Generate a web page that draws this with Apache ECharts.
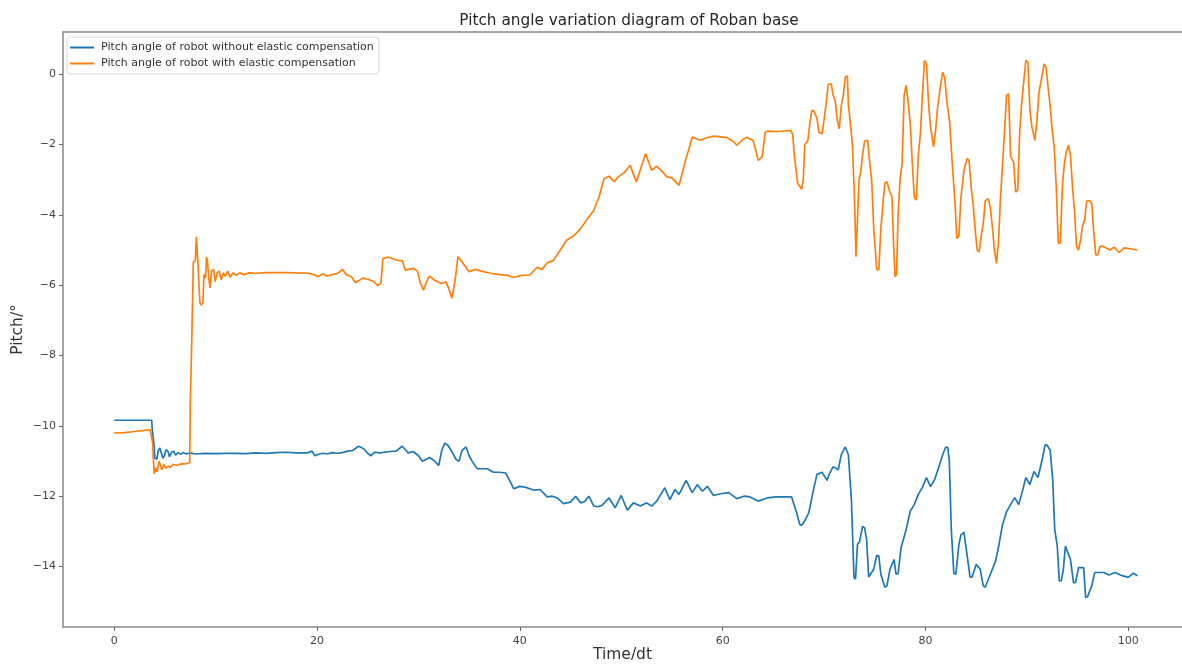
<!DOCTYPE html>
<html>
<head>
<meta charset="utf-8">
<script src="https://cdn.jsdelivr.net/npm/echarts@6/dist/echarts.min.js"></script>
<style>
html,body{margin:0;padding:0;background:#fff;}
#chart{width:1182px;height:666px;}
</style>
</head>
<body>
<div id="chart"></div>
<script>
const titleText = "Pitch angle variation diagram of Roban base";
const xName = "Time/dt";
const yName = "Pitch/°";
const seriesNames = ["Pitch angle of robot without elastic compensation", "Pitch angle of robot with elastic compensation"];
const xTicks = [0, 20, 40, 60, 80, 100];
const yTicks = [-14, -12, -10, -8, -6, -4, -2, 0];

const blueData = [[0,-9.84],[1.5,-9.84],[3.7,-9.84],[3.75,-10.1],[3.9,-10.15],[3.95,-10.6],[4.0,-10.91],[4.2,-10.95],[4.35,-10.7],[4.5,-10.63],[4.65,-10.65],[4.8,-10.92],[4.95,-10.85],[5.1,-10.68],[5.3,-10.72],[5.45,-10.88],[5.65,-10.75],[5.85,-10.72],[6.05,-10.83],[6.3,-10.76],[6.55,-10.81],[6.8,-10.76],[7.1,-10.8],[7.5,-10.77],[8,-10.8],[9,-10.78],[10,-10.79],[11,-10.78],[12,-10.78],[13,-10.79],[14,-10.77],[15,-10.78],[16,-10.76],[17,-10.75],[18,-10.77],[19,-10.77],[19.5,-10.72],[19.8,-10.85],[20.2,-10.8],[20.6,-10.78],[21,-10.8],[21.5,-10.76],[22,-10.78],[22.5,-10.76],[23.0,-10.72],[23.5,-10.7],[24.1,-10.58],[24.6,-10.65],[25.0,-10.78],[25.3,-10.85],[25.7,-10.75],[26.2,-10.77],[27.2,-10.73],[27.8,-10.72],[28.4,-10.58],[29.0,-10.77],[29.5,-10.73],[30.0,-10.85],[30.4,-11.01],[31.1,-10.9],[31.6,-11.0],[32.0,-11.13],[32.3,-10.7],[32.6,-10.49],[32.9,-10.55],[33.3,-10.73],[33.7,-10.95],[34.0,-11.01],[34.3,-10.7],[34.7,-10.6],[35.0,-10.85],[35.3,-11.01],[35.8,-11.22],[36.8,-11.22],[37.4,-11.32],[38.0,-11.32],[38.6,-11.34],[39.0,-11.55],[39.4,-11.79],[40.0,-11.72],[40.6,-11.75],[41.4,-11.83],[42.0,-11.81],[42.7,-12.02],[43.2,-12.0],[43.7,-12.05],[44.3,-12.21],[45.0,-12.17],[45.5,-12.0],[46.0,-12.19],[46.4,-12.15],[46.8,-12.0],[47.3,-12.28],[47.7,-12.3],[48.1,-12.26],[48.8,-12.05],[49.4,-12.33],[50.0,-11.98],[50.6,-12.4],[51.2,-12.19],[51.9,-12.28],[52.5,-12.19],[53.0,-12.28],[53.5,-12.14],[54.3,-11.76],[54.8,-12.1],[55.3,-11.81],[55.7,-11.95],[56.4,-11.55],[57.0,-11.9],[57.5,-11.67],[58.0,-11.86],[58.5,-11.72],[59.1,-11.98],[59.8,-11.93],[60.6,-11.9],[61.4,-12.07],[62.1,-12.0],[62.7,-12.02],[63.5,-12.14],[64.4,-12.05],[65.3,-12.02],[66.8,-12.02],[67.0,-12.2],[67.3,-12.47],[67.6,-12.8],[67.8,-12.83],[68.1,-12.7],[68.5,-12.47],[68.9,-11.9],[69.3,-11.38],[69.8,-11.32],[70.3,-11.55],[70.5,-11.38],[70.9,-11.16],[71.4,-11.25],[71.7,-10.82],[72.1,-10.6],[72.4,-10.82],[72.7,-12.1],[72.95,-14.3],[73.1,-14.36],[73.3,-13.37],[73.5,-13.3],[73.8,-12.86],[74.0,-12.9],[74.2,-13.23],[74.4,-14.3],[74.5,-14.3],[74.9,-14.08],[75.2,-13.68],[75.4,-13.7],[75.6,-14.22],[76.0,-14.59],[76.2,-14.55],[76.5,-14.08],[76.9,-13.8],[77.1,-14.22],[77.3,-14.2],[77.6,-13.46],[78.1,-12.95],[78.5,-12.43],[78.9,-12.24],[79.3,-11.95],[79.7,-11.75],[80.1,-11.47],[80.5,-11.73],[80.9,-11.53],[81.3,-11.19],[81.7,-10.82],[82.0,-10.6],[82.2,-10.62],[82.35,-10.97],[82.55,-12.95],[82.8,-14.2],[83.0,-14.22],[83.3,-13.37],[83.5,-13.1],[83.8,-13.03],[84.1,-13.66],[84.4,-14.3],[84.6,-14.3],[85.0,-13.94],[85.4,-14.08],[85.7,-14.55],[85.9,-14.59],[86.4,-14.22],[86.9,-13.86],[87.2,-13.46],[87.6,-12.81],[88.0,-12.44],[88.4,-12.24],[88.8,-12.04],[89.2,-12.24],[89.6,-11.82],[89.9,-11.47],[90.3,-11.67],[90.7,-11.3],[91.1,-11.47],[91.5,-10.97],[91.8,-10.54],[92.0,-10.55],[92.3,-10.69],[92.55,-11.53],[92.75,-12.95],[93.0,-13.42],[93.2,-14.41],[93.4,-14.4],[93.6,-14.08],[93.8,-13.42],[94.3,-13.8],[94.6,-14.46],[94.8,-14.46],[95.1,-14.03],[95.6,-14.03],[95.8,-14.88],[96.0,-14.85],[96.4,-14.55],[96.7,-14.17],[97.6,-14.17],[98.1,-14.24],[98.7,-14.17],[99.4,-14.26],[100.0,-14.31],[100.5,-14.19],[100.9,-14.26]];

const orangeData = [[0,-10.2],[1,-10.19],[2,-10.16],[3,-10.13],[3.55,-10.11],[3.7,-10.15],[3.8,-10.5],[3.85,-10.9],[3.95,-11.36],[4.1,-11.2],[4.25,-11.3],[4.4,-11.0],[4.55,-11.1],[4.7,-11.25],[4.9,-11.1],[5.1,-11.2],[5.3,-11.15],[5.5,-11.18],[5.8,-11.1],[6.2,-11.12],[6.6,-11.08],[7.0,-11.08],[7.45,-11.05],[7.5,-9.4],[7.6,-9.35],[7.65,-7.55],[7.75,-7.5],[7.8,-5.35],[8.0,-5.3],[8.1,-4.62],[8.2,-4.65],[8.25,-5.35],[8.4,-5.4],[8.45,-6.5],[8.6,-6.56],[8.75,-6.5],[8.85,-5.7],[9.0,-5.8],[9.1,-5.2],[9.2,-5.3],[9.3,-5.75],[9.45,-6.08],[9.6,-5.6],[9.8,-5.55],[9.95,-5.9],[10.15,-5.65],[10.35,-5.6],[10.55,-5.85],[10.75,-5.65],[10.95,-5.75],[11.2,-5.6],[11.45,-5.78],[11.7,-5.65],[12.0,-5.72],[12.4,-5.65],[12.8,-5.7],[13.3,-5.65],[14,-5.66],[15,-5.64],[16,-5.64],[17,-5.64],[18,-5.65],[19.3,-5.66],[20.1,-5.75],[20.6,-5.68],[21.0,-5.74],[21.5,-5.7],[22.1,-5.66],[22.5,-5.55],[22.9,-5.7],[23.4,-5.76],[23.8,-5.93],[24.5,-5.8],[25.0,-5.83],[25.5,-5.88],[26.0,-6.01],[26.3,-5.95],[26.5,-5.24],[27.0,-5.2],[27.9,-5.29],[28.4,-5.3],[28.7,-5.57],[29.5,-5.52],[29.9,-5.6],[30.2,-5.95],[30.5,-6.14],[30.8,-5.9],[31.1,-5.74],[31.6,-5.86],[32.3,-5.95],[32.7,-5.9],[33.0,-6.1],[33.3,-6.37],[33.6,-5.9],[33.9,-5.19],[34.2,-5.3],[35.0,-5.62],[35.6,-5.55],[36.2,-5.6],[37.1,-5.66],[38,-5.7],[38.8,-5.72],[39.4,-5.78],[40.2,-5.72],[41.0,-5.71],[41.7,-5.49],[42.2,-5.55],[42.7,-5.36],[43.3,-5.3],[44.0,-5.0],[44.6,-4.72],[45.3,-4.6],[46.0,-4.39],[46.7,-4.1],[47.3,-3.87],[47.8,-3.5],[48.3,-2.97],[48.8,-2.9],[49.3,-3.06],[49.7,-2.92],[50.3,-2.8],[50.9,-2.59],[51.2,-2.85],[51.5,-3.06],[51.9,-2.7],[52.4,-2.26],[53.0,-2.73],[53.5,-2.62],[54.0,-2.75],[54.5,-2.92],[55.0,-2.95],[55.7,-3.16],[56.3,-2.5],[57.0,-1.79],[57.8,-1.88],[58.5,-1.8],[59.1,-1.76],[59.8,-1.78],[60.4,-1.8],[61.0,-1.9],[61.4,-2.02],[62.0,-1.85],[62.4,-1.8],[63.0,-1.88],[63.3,-2.2],[63.5,-2.45],[63.9,-2.35],[64.2,-1.65],[64.4,-1.62],[65.5,-1.63],[66.7,-1.6],[66.9,-1.7],[67.1,-2.4],[67.4,-3.1],[67.8,-3.27],[67.95,-3.0],[68.1,-2.0],[68.4,-1.9],[68.6,-1.4],[68.8,-1.03],[69.0,-1.05],[69.3,-1.25],[69.5,-1.65],[69.8,-1.69],[70.0,-1.3],[70.2,-0.85],[70.4,-0.3],[70.7,-0.27],[70.9,-0.6],[71.1,-0.75],[71.3,-1.3],[71.5,-1.55],[71.7,-0.9],[71.9,-0.6],[72.1,-0.08],[72.3,-0.05],[72.4,-0.85],[72.6,-1.4],[72.8,-2.02],[73.0,-3.5],[73.15,-5.19],[73.3,-5.19],[73.45,-3.0],[73.6,-2.8],[73.8,-2.3],[74.0,-1.9],[74.3,-1.88],[74.5,-2.5],[74.7,-3.02],[74.9,-4.4],[75.2,-5.55],[75.4,-5.57],[75.6,-4.4],[75.8,-3.7],[76.0,-3.1],[76.2,-3.06],[76.5,-3.35],[76.7,-3.49],[76.85,-4.8],[77.0,-5.76],[77.15,-5.7],[77.3,-4.0],[77.5,-3.0],[77.7,-2.54],[77.9,-0.6],[78.1,-0.32],[78.3,-0.8],[78.5,-1.41],[78.7,-2.5],[78.9,-3.5],[79.1,-3.58],[79.3,-2.3],[79.5,-1.69],[79.7,-0.6],[79.9,0.39],[80.1,0.3],[80.3,-0.79],[80.5,-1.5],[80.8,-2.07],[81.0,-1.6],[81.2,-0.94],[81.5,-0.3],[81.7,0.06],[81.9,-0.1],[82.1,-0.75],[82.4,-1.4],[82.6,-2.35],[82.9,-3.6],[83.1,-4.67],[83.3,-4.6],[83.5,-3.5],[83.8,-2.73],[84.1,-2.4],[84.3,-2.45],[84.5,-3.2],[84.7,-3.68],[84.9,-4.4],[85.1,-5.0],[85.3,-5.05],[85.5,-4.6],[85.7,-4.25],[85.9,-3.6],[86.2,-3.54],[86.4,-3.8],[86.6,-4.34],[86.8,-5.0],[87.0,-5.38],[87.2,-4.8],[87.4,-3.5],[87.6,-2.59],[87.8,-1.6],[88.0,-0.6],[88.2,-0.56],[88.4,-2.35],[88.7,-2.5],[88.9,-3.35],[89.1,-3.3],[89.3,-1.6],[89.5,-0.79],[89.7,-0.2],[89.9,0.39],[90.1,0.35],[90.3,-1.0],[90.5,-1.5],[90.8,-1.88],[91.0,-1.3],[91.2,-0.5],[91.4,-0.2],[91.7,0.29],[91.9,0.2],[92.1,-0.4],[92.3,-0.9],[92.5,-1.6],[92.7,-2.07],[92.9,-3.2],[93.1,-4.81],[93.3,-4.8],[93.5,-3.2],[93.7,-2.54],[93.9,-2.2],[94.1,-2.02],[94.3,-2.3],[94.5,-3.2],[94.7,-3.9],[94.9,-4.9],[95.1,-5.0],[95.3,-4.7],[95.5,-4.3],[95.7,-4.15],[95.9,-3.6],[96.2,-3.6],[96.4,-3.68],[96.6,-4.5],[96.8,-5.14],[97.0,-5.14],[97.2,-4.9],[97.5,-4.89],[98.2,-5.0],[98.6,-4.92],[99.1,-5.07],[99.6,-4.94],[100.9,-5.0]];

const FONT = "DejaVu Sans";
const spine = {show: true, onZero: false, lineStyle: {color: '#8a8a8a', width: 1.5}};
const minus = v => String(v).replace('-', '\u2212');

const chart = echarts.init(document.getElementById('chart'), null, {renderer: 'canvas'});
chart.setOption({
  backgroundColor: '#ffffff',
  animation: false,
  textStyle: {fontFamily: FONT},
  title: {
    text: titleText,
    left: 624, top: 9, textAlign: 'center',
    textStyle: {fontFamily: FONT, fontSize: 15.3, fontWeight: 'normal', color: '#262626'}
  },
  legend: {
    orient: 'vertical', left: 67, top: 37,
    icon: 'rect', itemWidth: 24, itemHeight: 2, itemGap: 5,
    padding: [5, 5, 5, 3],
    backgroundColor: '#ffffff', borderColor: '#d9d9d9', borderWidth: 1, borderRadius: 3,
    textStyle: {fontFamily: FONT, fontSize: 11, color: '#333', padding: [0, 0, 0, 2]},
    data: seriesNames
  },
  grid: {left: 63, right: 0, top: 32, bottom: 39, containLabel: false, outerBoundsMode: 'none'},
  xAxis: [{
    type: 'value', min: -5.05, max: 105.3,
    name: xName, nameLocation: 'middle', nameGap: 20, nameMoveOverlap: false,
    nameTextStyle: {fontFamily: FONT, fontSize: 15.5, color: '#333'},
    axisLine: spine,
    axisTick: {show: true, inside: false, length: 4, lineStyle: {color: '#666'}, customValues: xTicks},
    axisLabel: {fontFamily: FONT, fontSize: 11, color: '#444', margin: 9, customValues: xTicks, formatter: minus},
    splitLine: {show: false}
  }, {
    type: 'value', position: 'top', min: -5.05, max: 105.3,
    axisLine: spine, axisTick: {show: false}, axisLabel: {show: false}, splitLine: {show: false}
  }],
  yAxis: {
    type: 'value', min: -15.72, max: 1.2,
    name: yName, nameLocation: 'middle', nameGap: 37, nameMoveOverlap: false,
    nameTextStyle: {fontFamily: FONT, fontSize: 15.5, color: '#333'},
    axisLine: spine,
    axisTick: {show: true, inside: false, length: 4, lineStyle: {color: '#666'}, customValues: yTicks},
    axisLabel: {fontFamily: FONT, fontSize: 11, color: '#444', margin: 7, customValues: yTicks, formatter: minus},
    splitLine: {show: false}
  },
  series: [{
    name: seriesNames[0], type: 'line', data: blueData, symbol: 'none',
    lineStyle: {color: '#1f77b4', width: 1.7}, itemStyle: {color: '#1f77b4'}
  }, {
    name: seriesNames[1], type: 'line', data: orangeData, symbol: 'none',
    lineStyle: {color: '#ff7f0e', width: 1.7}, itemStyle: {color: '#ff7f0e'}
  }]
});
</script>
</body>
</html>
